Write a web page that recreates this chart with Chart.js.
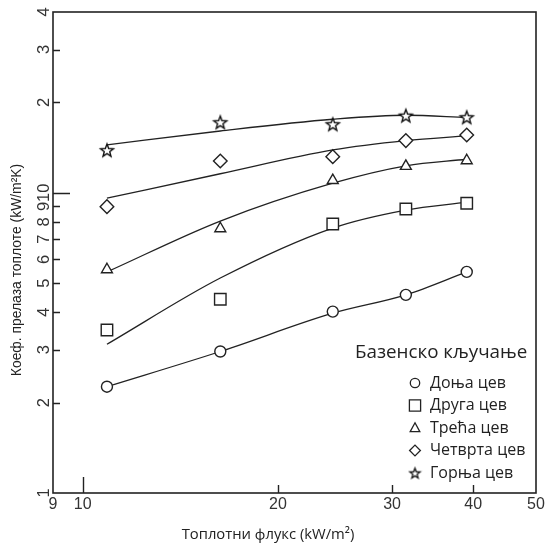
<!DOCTYPE html>
<html>
<head>
<meta charset="utf-8">
<script src="https://cdn.jsdelivr.net/npm/chart.js@4.4.1/dist/chart.umd.min.js"></script>
<style>
  body { margin: 0; background: #fff; }
  canvas { display: block; }
</style>
</head>
<body>
<canvas id="boilingChart" width="552" height="545"></canvas>
<script>
// heat flux, kW/m2
const heatFlux = [10.9, 16.3, 24.3, 31.5, 39.1];

// measured heat transfer coefficient per tube, kW/m2K
const tubeBottom = [2.26, 2.96, 4.02, 4.57, 5.45];
const tubeSecond = [3.49, 4.42, 7.87, 8.83, 9.23];
const tubeThird = [5.55, 7.60, 11.0, 12.26, 12.8];
const tubeFourth = [8.99, 12.76, 13.19, 14.92, 15.58];
const tubeTop = [13.86, 17.17, 16.91, 18.06, 17.84];

// correlation curves at the same heat flux values
const fitBottom = [2.26, 2.96, 3.97, 4.57, 5.45];
const fitSecond = [3.13, 5.20, 7.63, 8.76, 9.30];
const fitThird = [5.45, 8.05, 10.76, 12.29, 12.93];
const fitFourth = [9.59, 11.57, 13.89, 14.92, 15.46];
const fitTop = [14.43, 16.06, 17.57, 18.12, 17.79];

const tubeNames = ['Доња цев', 'Друга цев', 'Трећа цев', 'Четврта цев', 'Горња цев'];
const legendTitle = 'Базенско кључање';

const xTicks = [9, 10, 20, 30, 40, 50];
const yTicks = [1, 2, 3, 4, 5, 6, 7, 8, 9, 10, 20, 30, 40];
const yTickLabels = ['1', '2', '3', '4', '5', '6', '7', '8', '9', '10', '2', '3', '4'];

const xTitle = 'Топлотни флукс (kW/m²)';
const yTitle = 'Коеф. прелаза топлоте (kW/m²K)';

const ink = '#222';

// five point star, outline only
function makeStar(outer, lw) {
    const inner = outer * 0.42;
    const size = Math.ceil(outer * 2 + 4);
    const c = document.createElement('canvas');
    c.width = size;
    c.height = size;
    const g = c.getContext('2d');
    g.translate(size / 2, size / 2 + 0.6);
    g.beginPath();
    for (let i = 0; i < 10; i++) {
        const r = i % 2 === 0 ? outer : inner;
        const a = -Math.PI / 2 + i * Math.PI / 5;
        const px = Math.cos(a) * r, py = Math.sin(a) * r;
        if (i === 0) g.moveTo(px, py); else g.lineTo(px, py);
    }
    g.closePath();
    g.fillStyle = '#fff';
    g.fill();
    g.strokeStyle = '#111';
    g.lineWidth = lw;
    g.stroke();
    return c;
}

const starBig = makeStar(6.8, 1.4);
const starSmall = makeStar(5.4, 1.3);

const markerStyles = ['circle', 'rect', 'triangle', 'rectRot', starBig];
const markerRadius = [5.5, 8.1, 6.3, 6.8, 6];
const tubeSeries = [tubeBottom, tubeSecond, tubeThird, tubeFourth, tubeTop];
const fitSeries = [fitBottom, fitSecond, fitThird, fitFourth, fitTop];

function toPoints(ys) {
    return heatFlux.map((x, i) => ({ x: x, y: ys[i] }));
}

const datasets = [];
tubeSeries.forEach((ys, i) => {
    datasets.push({
        label: tubeNames[i],
        data: toPoints(ys),
        showLine: false,
        pointStyle: markerStyles[i],
        pointRadius: markerRadius[i],
        pointBorderWidth: 1.4,
        pointBorderColor: ink,
        pointBackgroundColor: '#fff',
        order: 1
    });
});
fitSeries.forEach((ys, i) => {
    datasets.push({
        label: tubeNames[i] + ' fit',
        data: toPoints(ys),
        borderColor: ink,
        borderWidth: 1.3,
        pointRadius: 0,
        cubicInterpolationMode: 'monotone',
        fill: false,
        order: 2
    });
});

// small legend markers
function drawMarker(ctx, kind, x, y) {
    ctx.save();
    ctx.strokeStyle = ink;
    ctx.fillStyle = '#fff';
    ctx.lineWidth = 1.3;
    ctx.beginPath();
    if (kind === 0) {
        ctx.arc(x, y, 4.7, 0, Math.PI * 2);
    } else if (kind === 1) {
        ctx.rect(x - 5.6, y - 5.6, 11.2, 11.2);
    } else if (kind === 2) {
        ctx.moveTo(x, y - 5.2);
        ctx.lineTo(x + 4.8, y + 3.6);
        ctx.lineTo(x - 4.8, y + 3.6);
        ctx.closePath();
    } else if (kind === 3) {
        ctx.moveTo(x - 5.4, y);
        ctx.lineTo(x, y - 5.4);
        ctx.lineTo(x + 5.4, y);
        ctx.lineTo(x, y + 5.4);
        ctx.closePath();
    } else {
        ctx.drawImage(starSmall, x - starSmall.width / 2, y - starSmall.height / 2);
        ctx.restore();
        return;
    }
    ctx.fill();
    ctx.stroke();
    ctx.restore();
}

const framePlugin = {
    id: 'frame',
    afterDatasetsDraw(chart) {
        const ctx = chart.ctx;
        const a = chart.chartArea;
        const xs = chart.scales.x;
        const ys = chart.scales.y;

        ctx.save();
        ctx.strokeStyle = ink;
        ctx.lineWidth = 1.6;
        ctx.strokeRect(a.left, a.top, a.right - a.left, a.bottom - a.top);

        // inward tick marks
        ctx.lineWidth = 1.4;
        ctx.beginPath();
        xTicks.forEach(v => {
            if (v <= 9 || v >= 50) return;
            const px = Math.round(xs.getPixelForValue(v)) + 0.5;
            const len = v === 10 ? 16 : 8;
            ctx.moveTo(px, a.bottom);
            ctx.lineTo(px, a.bottom - len);
        });
        yTicks.forEach(v => {
            if (v <= 1 || v >= 40) return;
            const py = Math.round(ys.getPixelForValue(v)) + 0.5;
            const len = v === 10 ? 17 : 7;
            ctx.moveTo(a.left, py);
            ctx.lineTo(a.left + len, py);
        });
        ctx.stroke();

        // tick labels
        ctx.fillStyle = '#333';
        ctx.textAlign = 'center';
        ctx.textBaseline = 'middle';
        ctx.font = '16px "Liberation Sans", Arial, sans-serif';
        xTicks.forEach(v => {
            ctx.fillText(String(v), xs.getPixelForValue(v), a.bottom + 12);
        });
        ctx.font = '16.5px "Liberation Sans", Arial, sans-serif';
        yTicks.forEach((v, i) => {
            ctx.save();
            ctx.translate(a.left - 9, ys.getPixelForValue(v));
            ctx.rotate(-Math.PI / 2);
            ctx.fillText(yTickLabels[i], 0, 0);
            ctx.restore();
        });

        // axis titles
        ctx.fillStyle = '#222';
        ctx.font = '14.8px "Open Sans", sans-serif';
        ctx.fillText(xTitle, 268, 535);
        ctx.save();
        ctx.translate(17, 270);
        ctx.rotate(-Math.PI / 2);
        ctx.font = '13.9px "Liberation Sans", Arial, sans-serif';
        ctx.fillText(yTitle, 0, 0);
        ctx.restore();

        // legend
        ctx.textAlign = 'left';
        ctx.font = '18.8px "Open Sans", sans-serif';
        ctx.fillText(legendTitle, 355, 353);
        ctx.font = '16px "Open Sans", sans-serif';
        tubeNames.forEach((name, i) => {
            const y = 383 + i * 22.5;
            drawMarker(ctx, i, 415, y);
            ctx.fillStyle = '#222';
            ctx.fillText(name, 430, y);
        });
        ctx.restore();
    }
};

const chart = new Chart(document.getElementById('boilingChart'), {
    type: 'line',
    data: { datasets: datasets },
    options: {
        responsive: false,
        animation: false,
        layout: { padding: { left: 0, top: 12, right: 16, bottom: 0 } },
        plugins: {
            legend: { display: false },
            tooltip: { enabled: false }
        },
        scales: {
            x: {
                type: 'logarithmic',
                min: 9,
                max: 50,
                grid: { display: false },
                border: { display: false },
                ticks: { display: false },
                afterBuildTicks: s => { s.ticks = xTicks.map(v => ({ value: v })); },
                afterFit: s => { s.height = 52; }
            },
            y: {
                type: 'logarithmic',
                min: 1,
                max: 40,
                grid: { display: false },
                border: { display: false },
                ticks: { display: false },
                afterBuildTicks: s => { s.ticks = yTicks.map(v => ({ value: v })); },
                afterFit: s => { s.width = 53; }
            }
        }
    },
    plugins: [framePlugin]
});
</script>
</body>
</html>
